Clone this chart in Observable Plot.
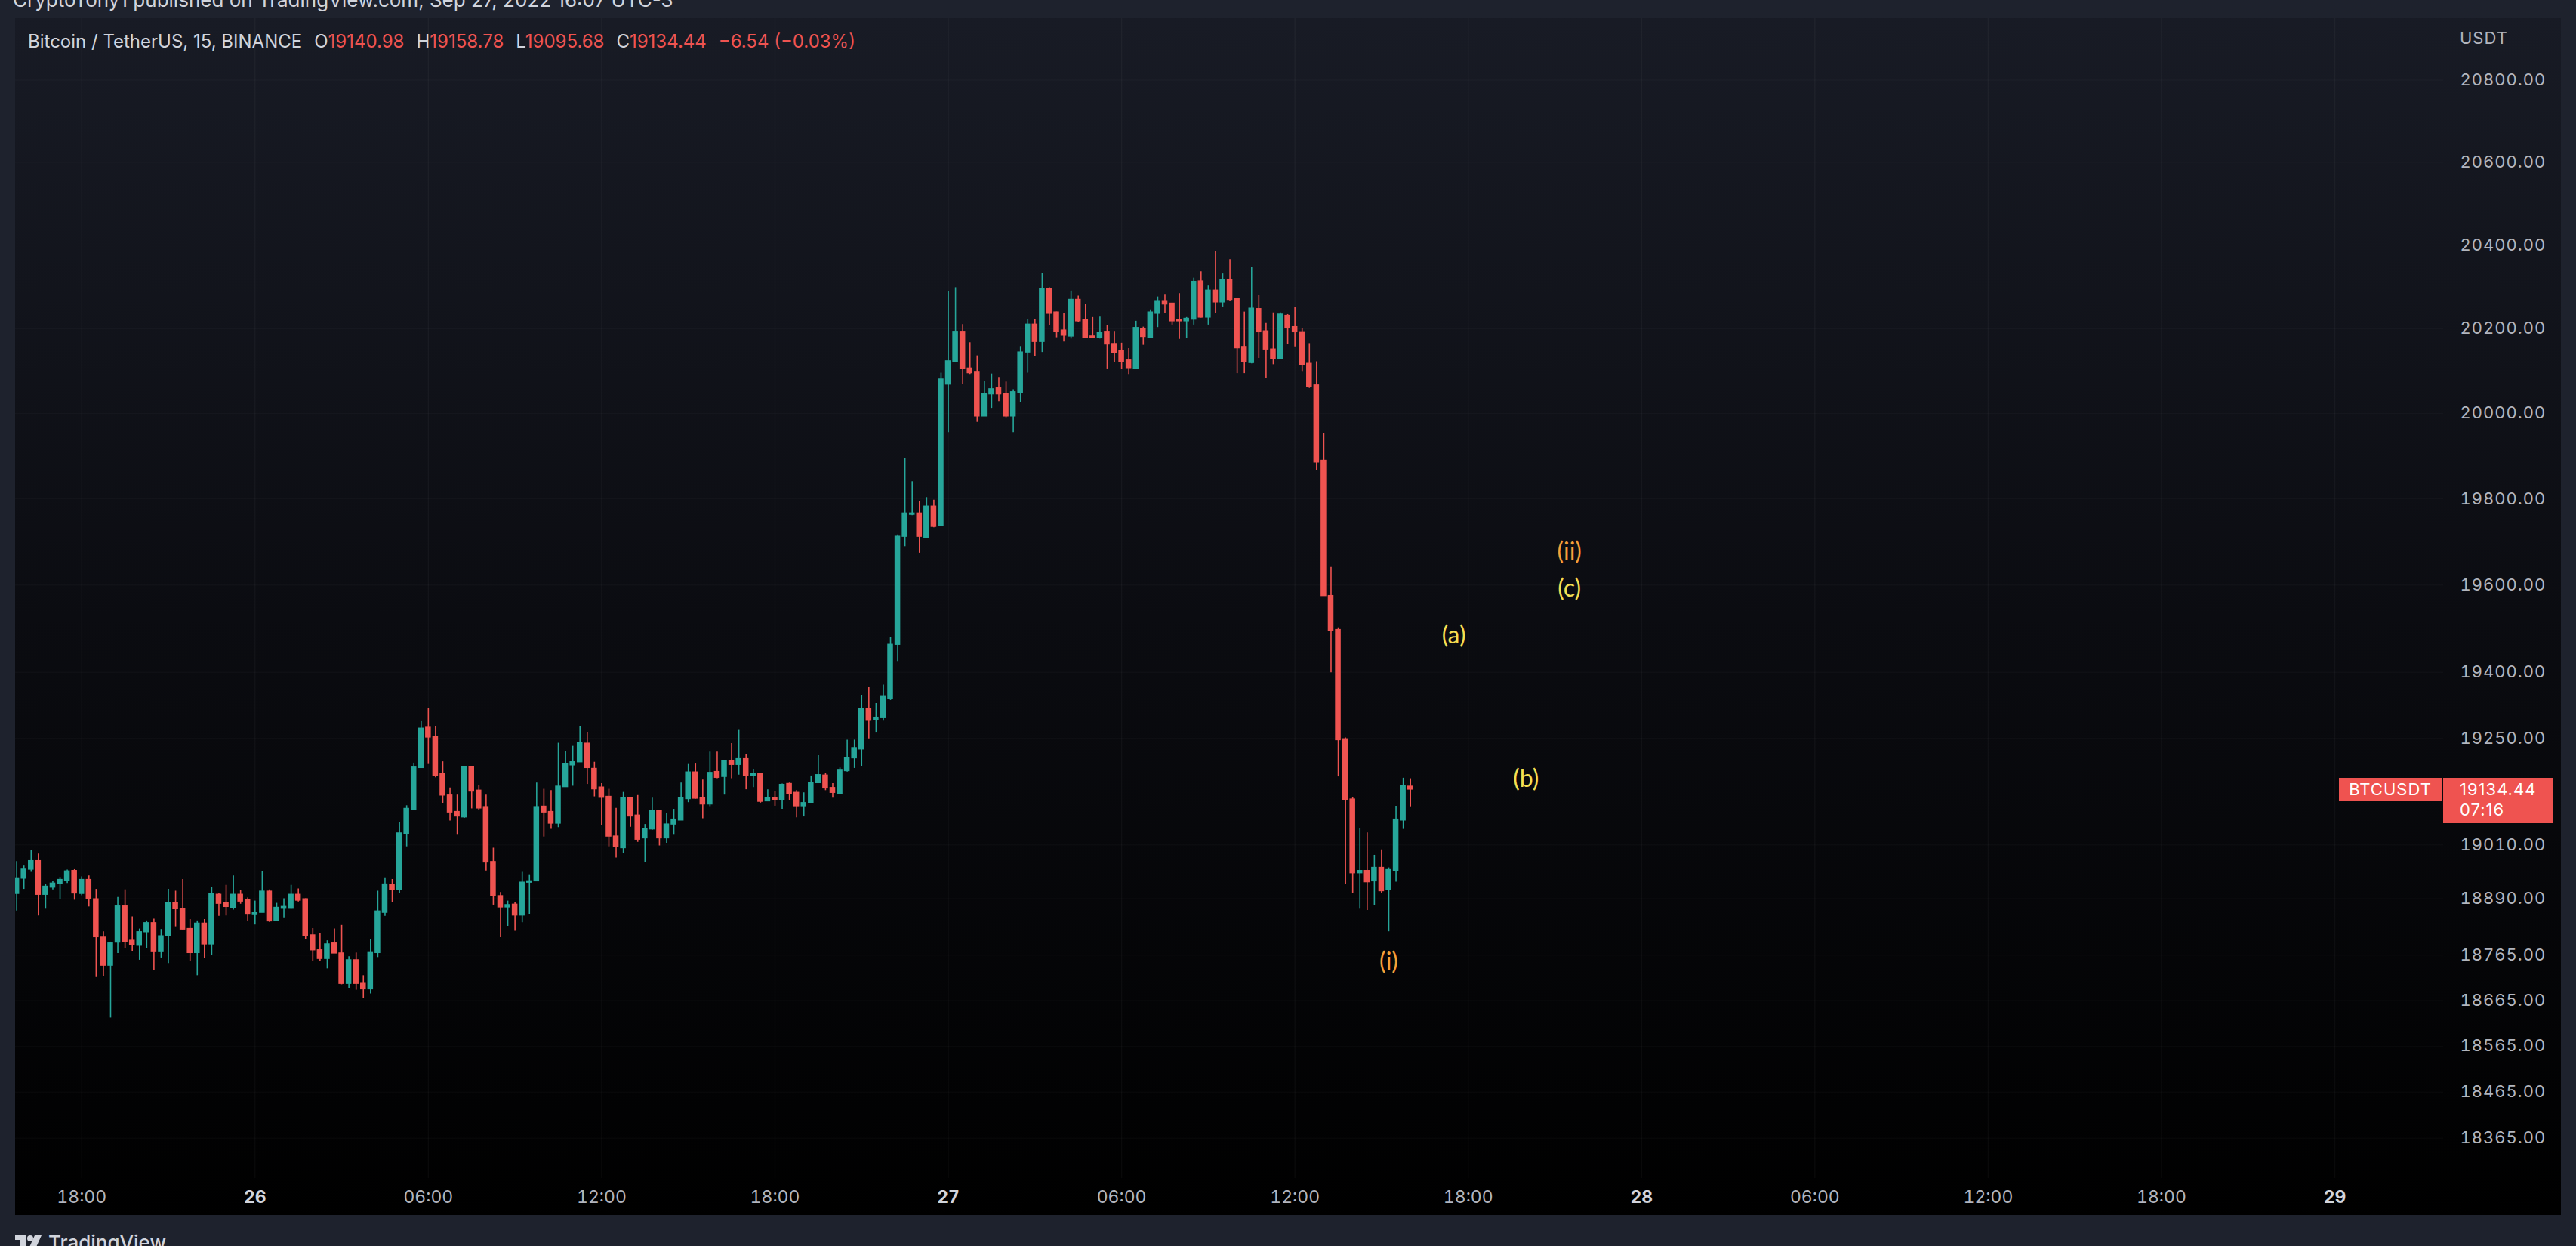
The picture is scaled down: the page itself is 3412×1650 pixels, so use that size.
<!DOCTYPE html>
<html><head><meta charset="utf-8">
<script src="https://cdn.jsdelivr.net/npm/d3@7"></script>
<script src="https://cdn.jsdelivr.net/npm/@observablehq/plot@0.6"></script>
<style>
html,body{margin:0;padding:0;}
body{width:3412px;height:1650px;background:#1e222d;position:relative;overflow:hidden;font-family:Inter,Roboto,sans-serif;}
#credit{position:absolute;left:17px;top:-15px;font-size:26px;color:#d1d4dc;white-space:nowrap;line-height:30px}
#pane{position:absolute;left:20px;top:24px;width:3372px;height:1585px;background:linear-gradient(to bottom,#181b25 0%,#0b0c11 50%,#000 100%);overflow:hidden}
#legend{position:absolute;left:17px;top:16px;font-size:24px;line-height:30px;color:#d1d4dc;white-space:nowrap}
#legend .v{color:#ef5350}
#legend .k{margin-left:16px}
#usdt{position:absolute;left:3238px;top:13px;font-size:22px;letter-spacing:1px;color:#b2b5be;line-height:26px}
.box{position:absolute;background:#ef5350;color:#fff;font-size:22px;letter-spacing:1px;white-space:nowrap}
#pane svg g[aria-label="y-axis tick label"] text{letter-spacing:1px}
#footer{position:absolute;left:20px;top:1634px;height:40px;display:flex;align-items:flex-start;color:#d1d4dc}
#footer span{font-size:26px;font-weight:500;margin-left:6px;line-height:26px;margin-top:-1px}
</style></head>
<body>
<div id="credit">CryptoTony1 published on TradingView.com, Sep 27, 2022 16:07 UTC-3</div>
<div id="pane">
  <div id="legend"></div>
  <div id="usdt">USDT</div>
</div>
<div id="footer"><svg width="38" height="24" viewBox="0 0 38 24"><rect x="0" y="2" width="14" height="6" fill="#d1d4dc"/><rect x="7" y="2" width="7" height="22" fill="#d1d4dc"/><circle cx="20" cy="6" r="4" fill="#d1d4dc"/><polygon points="26,2 35,2 25,24 16,24" fill="#d1d4dc"/></svg><span>TradingView</span></div>
<script>
// ---- data: BTCUSDT 15-minute candles, Sep 25 2022 15:45 → Sep 27 2022 16:00 (chart time, UTC-3)
const firstCandle = "2022-09-25T15:45:00Z";
const opens = [
18901,18935,18955,18974,18899,18915,18923,18930,18952,18901,
18932,18889,18804,18742,18793,18873,18797,18786,18816,18836,
18772,18808,18880,18867,18823,18770,18835,18789,18899,18880,
18870,18899,18888,18854,18859,18906,18841,18868,18868,18899,
18889,18809,18776,18757,18791,18769,18702,18754,18702,18690,
18770,18859,18921,18909,19035,19089,19183,19274,19253,19169,
19121,19084,19072,19185,19132,19095,18972,18896,18871,18877,
18853,18926,18929,19096,19084,19058,19140,19189,19196,19238,
19181,19139,19118,19029,19003,19115,19076,19025,19045,19086,
19025,19056,19065,19113,19173,19115,19101,19174,19163,19198,
19190,19203,19166,19170,19108,19115,19110,19147,19127,19097,
19104,19149,19166,19138,19125,19176,19205,19225,19317,19292,
19296,19340,19463,19712,19763,19766,19710,19782,19738,20068,
20121,20193,20106,20098,19993,20045,20059,20046,19993,20048,
20144,20210,20169,20294,20239,20196,20182,20269,20221,20182,
20178,20193,20164,20147,20125,20106,20200,20179,20236,20266,
20260,20221,20218,20222,20313,20227,20291,20263,20316,20272,
20157,20119,20247,20194,20151,20128,20231,20204,20192,20117,
20066,19889,19575,19497,19248,19112,18947,18952,18929,18959,
18909,18952,19065,19140.98];
const highs = [
18973,18963,18998,18990,18922,18929,18936,18954,18955,18939,
18941,18911,18817,18794,18893,18910,18850,18823,18841,18845,
18822,18911,18907,18933,18844,18841,18844,18916,18902,18920,
18941,18908,18892,18885,18950,18910,18880,18890,18920,18912,
18890,18824,18813,18797,18823,18831,18762,18770,18720,18800,
18907,18935,18933,19060,19098,19194,19288,19318,19276,19197,
19138,19122,19185,19187,19143,19122,19003,18904,18885,18881,
18949,18942,19149,19135,19132,19239,19220,19232,19277,19263,
19196,19148,19135,19092,19128,19115,19121,19056,19115,19087,
19081,19090,19149,19191,19192,19156,19219,19219,19200,19238,
19268,19213,19180,19170,19134,19130,19147,19149,19132,19127,
19165,19211,19170,19148,19183,19246,19246,19347,19365,19329,
19371,19480,19716,19895,19840,19793,19803,19797,20095,20288,
20298,20210,20167,20136,20076,20093,20085,20074,20056,20158,
20222,20222,20333,20298,20240,20236,20290,20278,20258,20227,
20228,20208,20194,20166,20153,20218,20204,20245,20276,20282,
20261,20284,20227,20321,20336,20302,20384,20331,20365,20272,
20240,20346,20279,20213,20238,20238,20234,20252,20200,20165,
20122,19952,19641,19502,19251,19117,19047,19037,18987,18999,
18959,19097,19160,19158.78];
const lows = [
18863,18911,18949,18852,18867,18910,18889,18924,18887,18897,
18872,18716,18719,18627,18769,18779,18774,18754,18780,18731,
18759,18747,18828,18821,18752,18720,18758,18764,18851,18852,
18865,18878,18840,18832,18859,18838,18839,18848,18867,18883,
18799,18751,18752,18735,18769,18700,18692,18688,18670,18680,
18760,18851,18881,18901,19006,19088,19183,19191,19161,19102,
19064,19032,19070,19091,19087,18952,18876,18804,18829,18818,
18837,18855,18929,19028,19045,19049,19140,19142,19196,19146,
19118,19054,19006,18981,18991,19050,19016,18970,19043,19008,
19014,19032,19065,19105,19113,19069,19096,19159,19122,19159,
19167,19134,19139,19104,19108,19097,19090,19110,19071,19073,
19104,19148,19132,19115,19125,19174,19182,19187,19249,19262,
19289,19336,19425,19689,19761,19674,19709,19733,19738,19955,
20121,20068,20092,19979,19993,20012,20028,19990,19955,20025,
20095,20134,20144,20208,20179,20169,20176,20215,20178,20178,
20176,20105,20121,20104,20092,20106,20161,20178,20203,20236,
20209,20175,20178,20209,20226,20209,20236,20252,20265,20094,
20094,20117,20130,20082,20115,20128,20163,20157,20099,20059,
19866,19575,19399,19163,18922,18902,18867,18864,18875,18902,
18817,18927,19045,19095.68];
const closes = [
18934,18955,18974,18899,18917,18924,18932,18951,18902,18932,
18889,18805,18742,18791,18873,18794,18787,18816,18836,18772,
18807,18881,18867,18822,18770,18835,18789,18901,18879,18872,
18899,18884,18855,18858,18906,18840,18870,18872,18899,18886,
18807,18776,18757,18789,18769,18702,18754,18702,18690,18770,
18862,18922,18909,19036,19091,19184,19272,19252,19166,19121,
19083,19074,19185,19130,19092,18971,18896,18871,18876,18853,
18926,18929,19095,19083,19058,19141,19191,19196,19240,19183,
19135,19116,19029,19006,19115,19074,19022,19045,19086,19025,
19056,19067,19116,19173,19114,19101,19172,19161,19199,19190,
19203,19166,19170,19107,19115,19111,19145,19125,19097,19104,
19150,19167,19137,19127,19177,19205,19228,19317,19290,19297,
19344,19463,19712,19766,19766,19712,19782,19735,20080,20123,
20193,20106,20095,19993,20045,20057,20045,19993,20050,20144,
20210,20169,20294,20236,20193,20184,20269,20218,20179,20178,
20191,20163,20143,20122,20107,20202,20181,20239,20266,20258,
20218,20218,20224,20312,20227,20291,20263,20317,20269,20154,
20122,20248,20192,20151,20128,20234,20202,20192,20115,20062,
19885,19575,19495,19246,19110,18947,18952,18927,18959,18907,
18954,19067,19142,19134.44];

// price-scale ticks and time-scale ticks shown on the axes
const priceTicks = [20800,20600,20400,20200,20000,19800,19600,19400,19250,19010,18890,18765,18665,18565,18465,18365];
const hourTicks = ["2022-09-25T18:00Z","2022-09-26T06:00Z","2022-09-26T12:00Z","2022-09-26T18:00Z","2022-09-27T06:00Z","2022-09-27T12:00Z","2022-09-27T18:00Z","2022-09-28T06:00Z","2022-09-28T12:00Z","2022-09-28T18:00Z"];
const dayTicks = ["2022-09-26T00:00Z","2022-09-27T00:00Z","2022-09-28T00:00Z","2022-09-29T00:00Z"];

// Elliott-wave annotations
const waveLabels = ["(i)","(a)","(b)","(ii)","(c)"];
const waveTimes  = ["2022-09-27T15:15Z","2022-09-27T17:30Z","2022-09-27T20:00Z","2022-09-27T21:30Z","2022-09-27T21:30Z"];
const wavePrices = [18750,19484,19157,19677,19591];
const waveDegree = ["intermediate","minor","minor","intermediate","minor"];

// legend values (last bar)
const symbolName = "Bitcoin / TetherUS, 15, BINANCE";
const lastChange = -6.54, lastChangePct = -0.03;
const countdown = "07:16";

// ---- build
const t0 = Date.parse(firstCandle);
const candles = opens.map((o, i) => ({t: new Date(t0 + i * 15 * 60e3), o, h: highs[i], l: lows[i], c: closes[i]}));
const waves = waveLabels.map((s, i) => ({s, t: new Date(waveTimes[i]), p: wavePrices[i], d: waveDegree[i]}));
const GREEN = "#26a69a", RED = "#ef5350";
const col = d => d.c >= d.o ? GREEN : RED;
const H = 3600e3, day26 = Date.parse("2022-09-26T00:00Z");
const half = 5.9 * 60e3;

const plot = Plot.plot({
  width: 3372, height: 1585,
  marginTop: 0, marginBottom: 49, marginLeft: 0, marginRight: 156,
  style: {background: "transparent", fontFamily: "Inter, sans-serif", overflow: "visible"},
  x: {type: "utc", domain: [new Date(day26 - 8.293 * H), new Date(day26 + 75.763 * H)]},
  y: {type: "log", domain: [18278.5, 20951]},
  marks: [
    Plot.gridX([...hourTicks, ...dayTicks].map(s => new Date(s)), {stroke: "#ffffff", strokeOpacity: 0.035, strokeWidth: 1.5}),
    Plot.gridY(priceTicks, {stroke: "#ffffff", strokeOpacity: 0.025, strokeWidth: 1.5}),
    Plot.ruleX(candles, {x: "t", y1: "l", y2: "h", stroke: col, strokeWidth: 1.6}),
    Plot.rect(candles, {x1: d => new Date(+d.t - half), x2: d => new Date(+d.t + half), y1: "o", y2: "c", fill: col, insetTop: -0.7, insetBottom: -0.7}),
    Plot.text(waves, {x: "t", y: "p", text: "s", fill: d => d.d === "intermediate" ? "#f6a03a" : "#f5df52", fontSize: 32, fontFamily: "Lato, sans-serif"}),
    Plot.axisY(priceTicks, {anchor: "right", tickSize: 0, tickPadding: 22, tickFormat: d => d.toFixed(2), fontSize: 22, color: "#b2b5be", label: null}),
    Plot.axisX(hourTicks.map(s => new Date(s)), {anchor: "bottom", tickSize: 0, tickPadding: 16, tickFormat: "%H:%M", fontSize: 23, color: "#b2b5be", label: null}),
    Plot.axisX(dayTicks.map(s => new Date(s)), {anchor: "bottom", tickSize: 0, tickPadding: 16, tickFormat: "%-d", fontSize: 23, fontWeight: "bold", color: "#d1d4dc", label: null})
  ]
});
const pane = document.getElementById("pane");
plot.style.position = "absolute"; plot.style.left = "0px"; plot.style.top = "0px";
pane.insertBefore(plot, pane.firstChild);

// legend
const last = candles[candles.length - 1];
const f2 = v => v.toFixed(2);
const sgn = v => (v < 0 ? "\u2212" : "+") + Math.abs(v).toFixed(2);
document.getElementById("legend").innerHTML =
  `${symbolName}<span class="k">O</span><span class="v">${f2(last.o)}</span><span class="k">H</span><span class="v">${f2(last.h)}</span><span class="k">L</span><span class="v">${f2(last.l)}</span><span class="k">C</span><span class="v">${f2(last.c)}</span><span class="v" style="margin-left:16px">${sgn(lastChange)} (${sgn(lastChangePct)}%)</span>`;

// last-price labels on the price scale
const yLast = plot.scale("y").apply(last.c);
const sym = document.createElement("div");
sym.className = "box";
Object.assign(sym.style, {left: "3078px", top: (yLast - 14.5) + "px", width: "136px", height: "31px", lineHeight: "31px", textAlign: "center"});
sym.textContent = "BTCUSDT";
pane.appendChild(sym);
const pb = document.createElement("div");
pb.className = "box";
Object.assign(pb.style, {left: "3216px", top: (yLast - 14.5) + "px", width: "146px", height: "60px", paddingLeft: "22px", boxSizing: "border-box", lineHeight: "27px", paddingTop: "2px"});
pb.innerHTML = `${f2(last.c)}<br>${countdown}`;
pane.appendChild(pb);
</script>
</body></html>
